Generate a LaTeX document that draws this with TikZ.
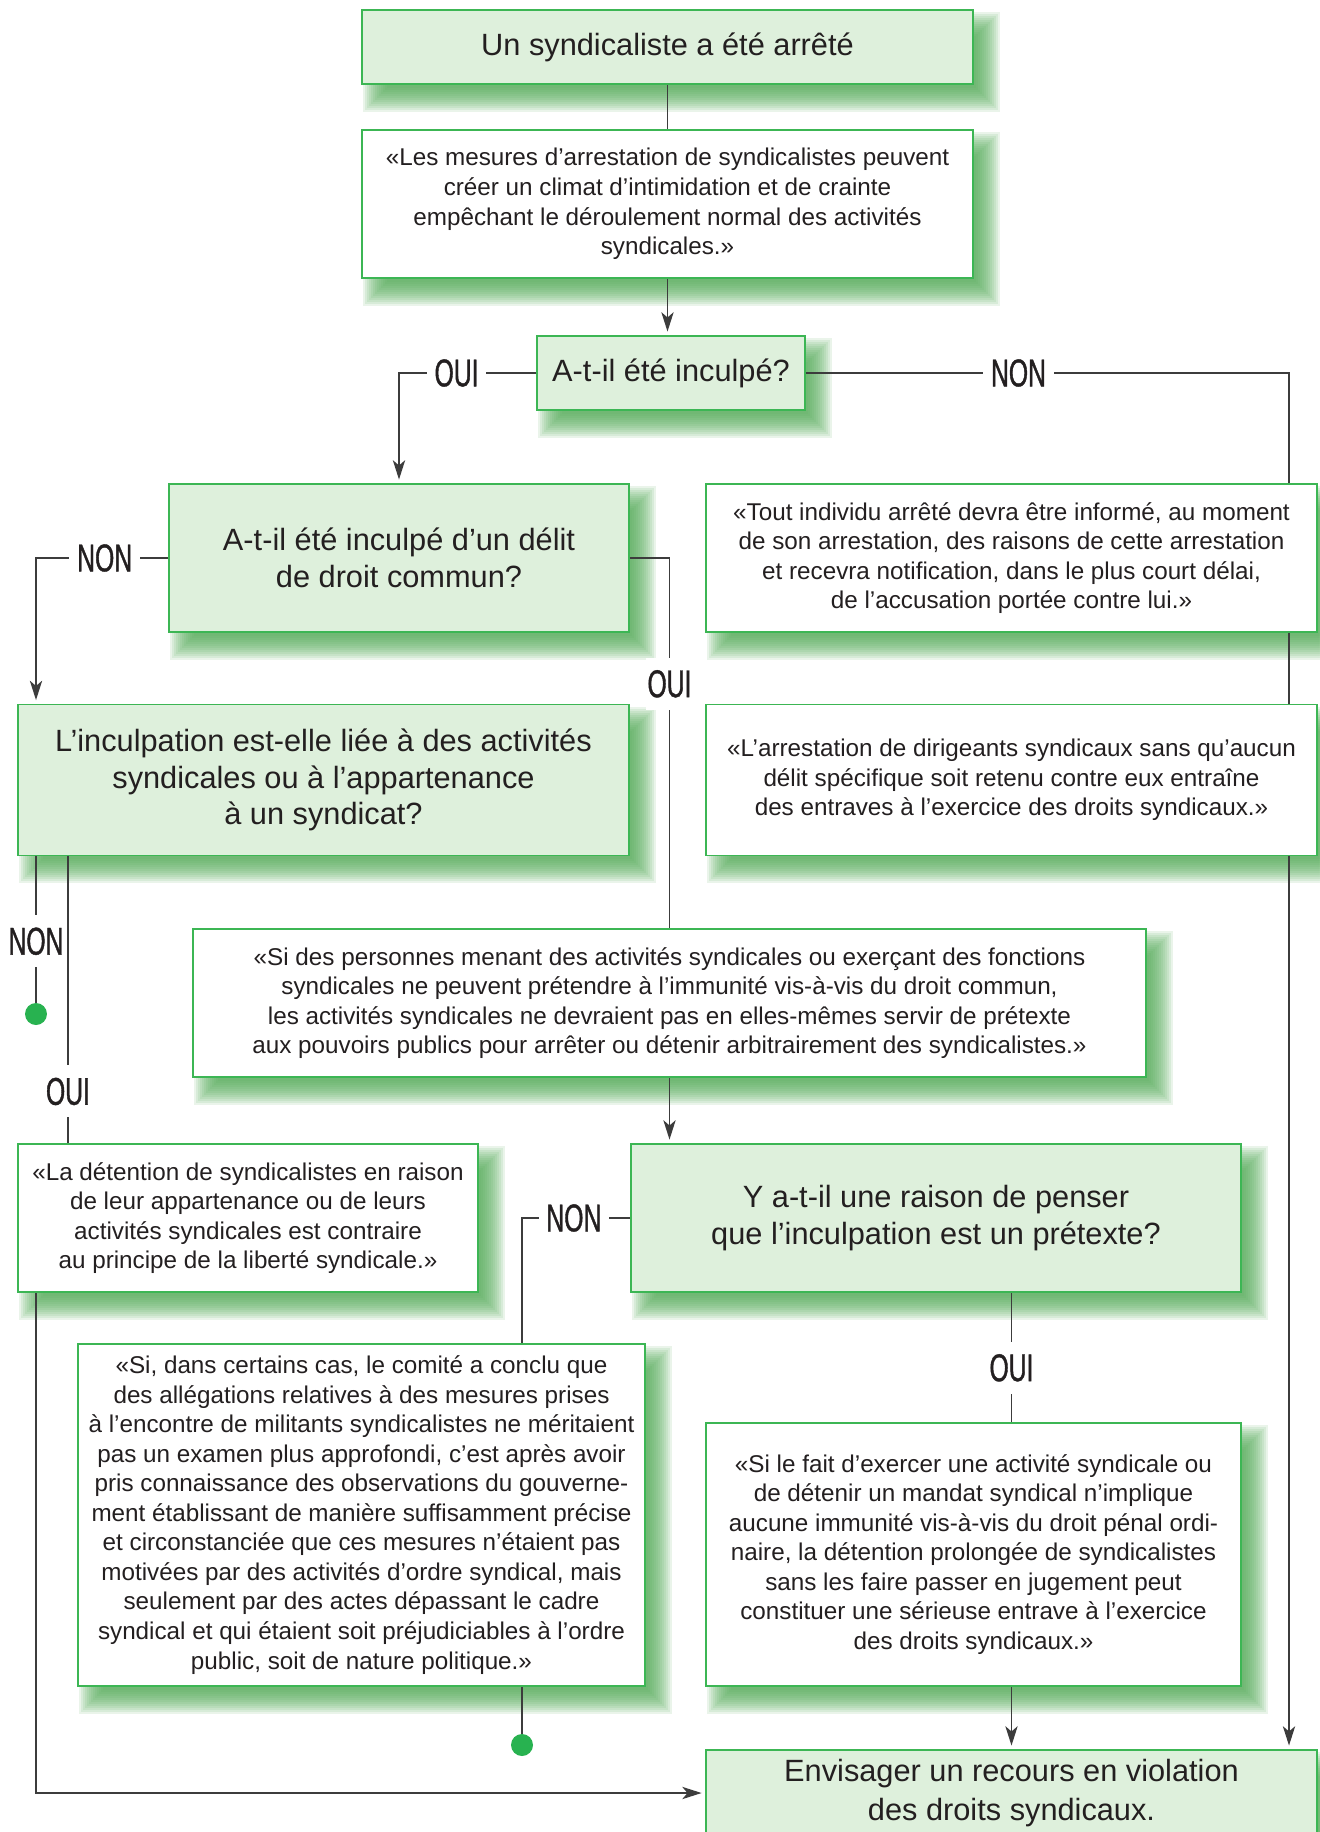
\documentclass[tikz,border=0pt]{standalone}
\usepackage{fontspec}
\setmainfont{Liberation Sans}
\newfontfamily\lblfont[FakeStretch=0.64,FakeBold=1]{Liberation Sans}
\usetikzlibrary{arrows.meta}
\pgfdeclarelayer{background}
\pgfsetlayers{background,main}
\definecolor{boxgreen}{RGB}{60,182,84}
\definecolor{fillgreen}{RGB}{222,240,220}
\definecolor{shadowgreen}{RGB}{85,172,88}
\definecolor{dotgreen}{RGB}{40,178,80}
\definecolor{linegray}{RGB}{60,60,60}
\definecolor{txt}{RGB}{35,31,32}
\begin{document}
\begin{tikzpicture}[x=0.02cm,y=-0.02cm,
  box/.style={draw=boxgreen,line width=1.1pt,text=txt,align=center,inner sep=0pt},
  qbox/.style={box,fill=white,font=\fontsize{13.8}{16.8}\selectfont},
  gbox/.style={box,fill=fillgreen,font=\fontsize{17.5}{20.8}\selectfont},
  sz/.style 2 args={minimum width=#1cm,minimum height=#2cm},
  conn/.style={draw=linegray,line width=0.8pt},
  arr/.style={conn,-{Stealth[length=11pt,width=7pt,inset=3pt]},shorten >=2pt},
  hlbl/.style={fill=white,text=txt,font=\lblfont\fontsize{22}{24}\selectfont,inner xsep=4.5pt,inner ysep=0pt},
  vlbl/.style={hlbl,inner xsep=1pt,inner ysep=7pt},
  dot/.style={circle,fill=dotgreen,inner sep=0pt,minimum size=0.44cm}]
  \useasboundingbox (0,0) rectangle (1319,1832);

  % boxes
  \node[gbox,sz={12.22}{1.48}] (b1) at (667.5,47) {Un syndicaliste a été arrêté};
  \node[qbox,sz={12.22}{2.96}] (b2) at (667.5,204) {«Les mesures d’arrestation de syndicalistes peuvent\\créer un climat d’intimidation et de crainte\\empêchant le déroulement normal des activités\\syndicales.»};
  \node[gbox,sz={5.36}{1.48}] (b3) at (671,373) {A-t-il été inculpé?};
  \node[gbox,sz={9.2}{2.96}] (b4) at (399,558) {A-t-il été inculpé d’un délit\\de droit commun?};
  \node[qbox,sz={12.22}{2.96}] (b5) at (1011.5,558) {«Tout individu arrêté devra être informé, au moment\\de son arrestation, des raisons de cette arrestation\\et recevra notification, dans le plus court délai,\\de l’accusation portée contre lui.»};
  \node[gbox,sz={12.22}{3.02}] (b6) at (323.5,780) {L’inculpation est-elle liée à des activités\\syndicales ou à l’appartenance\\à un syndicat?};
  \node[qbox,sz={12.22}{3.02}] (b7) at (1011.5,780) {«L’arrestation de dirigeants syndicaux sans qu’aucun\\délit spécifique soit retenu contre eux entraîne\\des entraves à l’exercice des droits syndicaux.»};
  \node[qbox,sz={19.06}{2.96}] (b8) at (669.5,1003) {«Si des personnes menant des activités syndicales ou exerçant des fonctions\\syndicales ne peuvent prétendre à l’immunité vis-à-vis du droit commun,\\les activités syndicales ne devraient pas en elles-mêmes servir de prétexte\\aux pouvoirs publics pour arrêter ou détenir arbitrairement des syndicalistes.»};
  \node[qbox,sz={9.2}{2.96}] (b9) at (248,1218) {«La détention de syndicalistes en raison\\de leur appartenance ou de leurs\\activités syndicales est contraire\\au principe de la liberté syndicale.»};
  \node[gbox,sz={12.2}{2.96}] (b10) at (936,1218) {Y a-t-il une raison de penser\\que l’inculpation est un prétexte?};
  \node[qbox,sz={11.34}{6.84}] (b11) at (361.5,1515) {«Si, dans certains cas, le comité a conclu que\\des allégations relatives à des mesures prises\\à l’encontre de militants syndicalistes ne méritaient\\pas un examen plus approfondi, c’est après avoir\\pris connaissance des observations du gouverne-\\ment établissant de manière suffisamment précise\\et circonstanciée que ces mesures n’étaient pas\\motivées par des activités d’ordre syndical, mais\\seulement par des actes dépassant le cadre\\syndical et qui étaient soit préjudiciables à l’ordre\\public, soit de nature politique.»};
  \node[qbox,sz={10.7}{5.26}] (b12) at (973.5,1554.5) {«Si le fait d’exercer une activité syndicale ou\\de détenir un mandat syndical n’implique\\aucune immunité vis-à-vis du droit pénal ordi-\\naire, la détention prolongée de syndicalistes\\sans les faire passer en jugement peut\\constituer une sérieuse entrave à l’exercice\\des droits syndicaux.»};
  \node[gbox,sz={12.22}{1.72}] (b13) at (1011.5,1793) {Envisager un recours en violation\\[1.5pt]des droits syndicaux.};

  \node[dot] (d1) at (36,1014) {};
  \node[dot] (d2) at (522,1745) {};
  \coordinate (ox) at (68,0);
  \coordinate (rx) at (1289,376);

  % connectors
  \draw[conn] (b1) -- (b2);
  \draw[arr] (b2.south) -- (b2.south |- b3.north);
  \draw[arr] (b3.west) -| node[hlbl,pos=0.29]{OUI} (b4.north);
  \draw[conn] (b3.east) -- node[hlbl,pos=0.44]{NON} (b3.east -| rx) -- (rx |- b5.north);
  \draw[conn] (rx |- b5.south) -- (rx |- b7.north);
  \draw[arr] (rx |- b7.south) -- (rx |- b13.north);
  \draw[arr] (b4.west) -| node[hlbl,pos=0.24]{NON} (b6.north -| d1);
  \draw[conn] (b4.east) -| node[vlbl,pos=0.67]{OUI} (b8.north);
  \draw[arr] (b8.south) -- (b8.south |- b10.north);
  \draw[conn] (b6.south -| d1) -- node[vlbl,pos=0.58]{NON} (d1);
  \draw[conn] (b6.south -| ox) -- node[vlbl,pos=0.82]{OUI} (b9.north -| ox);
  \draw[arr] (b9.south -| d1) |- (b13.west);
  \draw[conn] (b10.west) -| node[hlbl,pos=0.26]{NON} (b11.north -| d2);
  \draw[conn] (b11.south -| d2) -- (d2);
  \draw[conn] (b10.south -| b13.north) -- node[vlbl,pos=0.58]{OUI} (b12.north -| b13.north);
  \draw[arr] (b12.south -| b13.north) -- (b13.north);

  % shadows
  \begin{pgfonlayer}{background}
    \fill[white] (0,0) rectangle (1319,1832);
    \foreach \n in {b1,b2,b3,b4,b5,b6,b7,b8,b9,b10,b11,b12,b13}
      \foreach \k in {-12,-10,...,12}
        \fill[shadowgreen,opacity=0.12] ([shift={(14+\k,15+\k)}]\n.north west) rectangle ([shift={(14-\k,15-\k)}]\n.south east);
  \end{pgfonlayer}
\end{tikzpicture}
\end{document}
